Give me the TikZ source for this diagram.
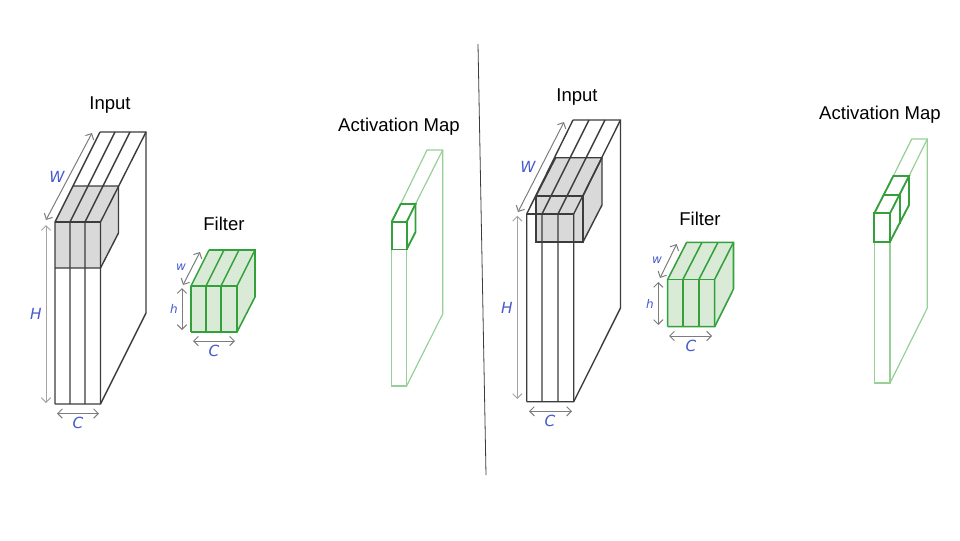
\documentclass[tikz,border=0pt]{standalone}
\usepackage{fontspec}
\setmainfont{Liberation Sans}
\newfontfamily\dimfont{DejaVu Sans}
\usepackage{xcolor}
\usetikzlibrary{arrows.meta}
\definecolor{BlockLine}{RGB}{60,60,60}
\definecolor{BlockGray}{RGB}{217,217,217}
\definecolor{FilterLine}{RGB}{52,160,60}
\definecolor{FilterFill}{RGB}{217,234,214}
\definecolor{MapLine}{RGB}{150,208,150}
\definecolor{DimGray}{RGB}{125,125,125}
\definecolor{DimLight}{RGB}{165,165,165}
\definecolor{DimBlue}{RGB}{70,90,205}
\tikzset{
  title/.style={font=\fontsize{13.9}{15}\selectfont,color=black},
  dimbig/.style={font=\dimfont\itshape\fontsize{11.5}{14}\selectfont,color=DimBlue},
  dimsmall/.style={font=\dimfont\itshape\fontsize{9}{11}\selectfont,color=DimBlue},
  dimarrow/.style={DimGray,line width=0.75pt,{Straight Barb[length=3.5pt,width=7pt]}-{Straight Barb[length=3.5pt,width=7pt]}},
  blockline/.style={BlockLine,line width=1.05pt},
  filterline/.style={FilterLine,line width=1.15pt},
  boxline/.style={FilterLine,line width=1.4pt},
  mapline/.style={MapLine,line width=0.9pt}
}
\begin{document}
\begin{tikzpicture}[x=0.75pt,y=-0.75pt]
  \useasboundingbox (0,0) rectangle (960,540);
  % Divider
  \draw[BlockLine,line width=0.6pt] (478,44) -- (486,475);

  % Left input
  \node[title] (inputa) at (110,105) {Input};
  \fill[BlockGray] (55,222) -- (73,186) -- (118.5,186) -- (118.5,233) -- (100.5,268) -- (55,268) -- cycle;
  \foreach \xa/\xb in {55/100,70/115,85/130,100.5/146}{
    \draw[blockline] (\xa,404) -- (\xa,222) -- (\xb,132);
  }
  \draw[blockline] (100,132) -- (146,132) -- (146,313) -- (100.5,404) -- (55,404);
  \draw[blockline] (55,222) -- (100.5,222);
  \draw[blockline] (55,268) -- (100.5,268) -- (118.5,233) -- (118.5,186) -- (73,186);
  \draw[dimarrow,DimLight] (46,225) -- (46,403);
  \draw[dimarrow] (46,220) -- (92,133);
  \draw[dimarrow] (57,413.5) -- (99,413.5);
  \node[dimbig] (hinputa) at (36,314) {H};
  \node[dimbig] (winputa) at (57,177) {W};
  \node[dimbig] (cinputa) at (78,423) {C};

  % Left filter
  \node[title] (filtera) at (224,224) {Filter};
  \fill[FilterFill] (191,286) -- (209,250) -- (255,250) -- (255,297) -- (237,332) -- (191,332) -- cycle;
  \foreach \xa/\xb in {191/209,206/224,221/239,237/255}{
    \draw[filterline] (\xa,332) -- (\xa,286) -- (\xb,250);
  }
  \draw[filterline] (191,286) -- (237,286);
  \draw[filterline] (209,250) -- (255,250) -- (255,297) -- (237,332) -- (191,332);
  \draw[dimarrow] (182,288) -- (182,330);
  \draw[dimarrow] (183,285) -- (200,252);
  \draw[dimarrow] (193,341) -- (235,341);
  \node[dimsmall] (hfiltera) at (174,309) {h};
  \node[dimsmall] (wfiltera) at (181,267) {w};
  \node[dimbig] (cfiltera) at (214,351) {C};

  % Left activation map
  \node[title] (mapa) at (399,127) {Activation Map};
  \draw[mapline] (391.6,250) -- (391.6,386) -- (406.6,386) -- (406.6,250);
  \draw[mapline] (406.6,386) -- (442.7,314) -- (442.7,150) -- (427,150) -- (400.7,204);
  \draw[mapline] (442.7,150) -- (415.5,204);
  \draw[boxline] (391.6,222) rectangle (406.6,249.5);
  \draw[boxline] (391.6,222) -- (400.7,204) -- (415.5,204) -- (406.6,222);
  \draw[boxline] (415.5,204) -- (415.5,232) -- (406.6,249.5);

  % Right input
  \node[title] (inputb) at (577,97) {Input};
  \fill[BlockGray] (536,196) -- (555.7,157.7) -- (602,157.7) -- (602,205) -- (583,242) -- (536,242) -- cycle;
  \foreach \xa/\xb in {526.7/573,542/589,558/605,573.7/620.5}{
    \draw[blockline] (\xa,401.7) -- (\xa,214) -- (\xb,120);
  }
  \draw[blockline] (573,120) -- (620.5,120) -- (620.5,308) -- (573.7,401.7) -- (526.7,401.7);
  \draw[blockline] (526.7,214) -- (573.7,214);
  \draw[blockline] (536,196) rectangle (583,242);
  \draw[blockline] (536,196) -- (555.7,157.7) -- (602,157.7) -- (602,205) -- (583,242);
  \draw[blockline] (583,196) -- (602,157.7);
  \draw[dimarrow,DimLight] (517.3,215.7) -- (517.3,399);
  \draw[dimarrow] (518,212) -- (564,122);
  \draw[dimarrow] (529,411.3) -- (572,411.3);
  \node[dimbig] (hinputb) at (507,308) {H};
  \node[dimbig] (winputb) at (528,167) {W};
  \node[dimbig] (cinputb) at (550,421) {C};

  % Right filter
  \node[title] (filterb) at (700,219) {Filter};
  \fill[FilterFill] (667.7,279.3) -- (686.7,242.3) -- (733.5,242.3) -- (733.5,289) -- (714.7,326.7) -- (667.7,326.7) -- cycle;
  \foreach \xa/\xb in {667.7/686.7,683/702,699/718,714.7/733.5}{
    \draw[filterline] (\xa,326.7) -- (\xa,279.3) -- (\xb,242.3);
  }
  \draw[filterline] (667.7,279.3) -- (714.7,279.3);
  \draw[filterline] (686.7,242.3) -- (733.5,242.3) -- (733.5,289) -- (714.7,326.7) -- (667.7,326.7);
  \draw[dimarrow] (658.3,282) -- (658.3,325);
  \draw[dimarrow] (660,278) -- (676.7,244);
  \draw[dimarrow] (669,336) -- (712,336);
  \node[dimsmall] (hfilterb) at (650,304) {h};
  \node[dimsmall] (wfilterb) at (657,260) {w};
  \node[dimbig] (cfilterb) at (691,346) {C};

  % Right activation map
  \node[title] (mapb) at (880,115) {Activation Map};
  \draw[mapline] (874.3,241.7) -- (874.3,383) -- (890,383) -- (890,241.7);
  \draw[mapline] (890,383) -- (927.3,308) -- (927.3,139) -- (911.7,139) -- (893.3,176);
  \draw[mapline] (927.3,139) -- (909,176);
  \draw[boxline] (874.3,213.3) rectangle (890,241.7);
  \draw[boxline] (874.3,213.3) -- (893.3,176) -- (909,176) -- (890,213.3);
  \draw[boxline] (884,195) -- (900,195) -- (900,224);
  \draw[boxline] (909,176) -- (909,205) -- (890,241.7);
\end{tikzpicture}
\end{document}
